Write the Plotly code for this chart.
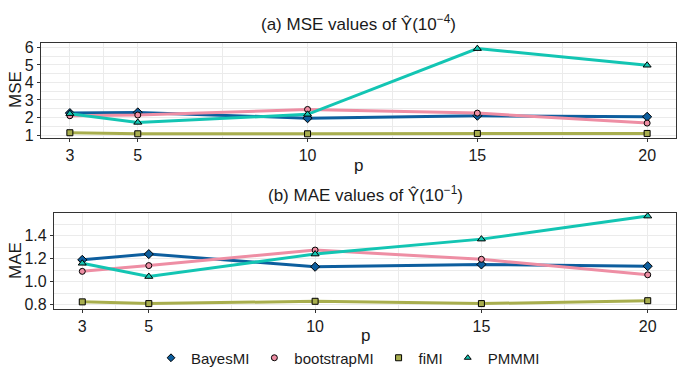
import plotly.graph_objects as go
from plotly.subplots import make_subplots

p_values = [3, 5, 10, 15, 20]
methods = ["BayesMI", "bootstrapMI", "fiMI", "PMMMI"]

mse = {
    "BayesMI":     [2.25, 2.29, 1.96, 2.10, 2.04],
    "bootstrapMI": [2.10, 2.14, 2.46, 2.25, 1.68],
    "fiMI":        [1.13, 1.07, 1.07, 1.09, 1.09],
    "PMMMI":       [2.22, 1.72, 2.18, 5.93, 4.98],
}
mae = {
    "BayesMI":     [1.19, 1.24, 1.13, 1.15, 1.135],
    "bootstrapMI": [1.09, 1.14, 1.275, 1.195, 1.06],
    "fiMI":        [0.825, 0.81, 0.83, 0.81, 0.835],
    "PMMMI":       [1.16, 1.045, 1.24, 1.37, 1.57],
}

colors = {"BayesMI": "#0D5E9E", "bootstrapMI": "#EE8EA4",
          "fiMI": "#A8AE4E", "PMMMI": "#13C5B3"}
symbols = {"BayesMI": "diamond", "bootstrapMI": "circle",
           "fiMI": "square", "PMMMI": "triangle-up"}
msizes = {"BayesMI": 7, "bootstrapMI": 6, "fiMI": 6, "PMMMI": 7}

W, H = 686, 369
ml, mr, mt, mb = 41, 10, 43, 60
ph = H - mt - mb
pw = W - ml - mr

FAM = "Liberation Sans, Arial, sans-serif"
TXT = "#1a1a1a"

fig = make_subplots(rows=2, cols=1)

for row, data in [(1, mse), (2, mae)]:
    for m in methods:
        fig.add_trace(go.Scatter(
            x=p_values, y=data[m], mode="lines+markers", name=m,
            showlegend=False,
            line=dict(color=colors[m], width=3),
            marker=dict(symbol=symbols[m], size=msizes[m], color=colors[m],
                        line=dict(color="black", width=1)),
        ), row=row, col=1)

# legend entries (marker keys only, like the reference)
for m in methods:
    fig.add_trace(go.Scatter(
        x=[None], y=[None], mode="markers", name=m, showlegend=True,
        marker=dict(symbol=symbols[m], size=6, color=colors[m],
                    line=dict(color="black", width=1)),
    ), row=1, col=1)

grid = "#EBEBEB"
axis_common = dict(showline=True, mirror=True, linecolor="#333333", linewidth=1.2,
                   ticks="outside", ticklen=3, tickcolor="#333333",
                   gridcolor=grid, gridwidth=1.2, zeroline=False,
                   tickfont=dict(family=FAM, size=16, color=TXT))

top_dom = [(H - mb - 138) / ph, 1]
bot_dom = [0, (H - mb - 213) / ph]
bot_x0 = (54 - ml) / pw

fig.update_xaxes(**axis_common, range=[2.15, 20.85], tickvals=p_values,
                 minor=dict(tickvals=[4, 7.5, 12.5, 17.5], showgrid=True,
                            gridcolor=grid, gridwidth=0.6, ticks=""))
fig.update_xaxes(domain=[0, 1], row=1, col=1)
fig.update_xaxes(domain=[bot_x0, 1], row=2, col=1)

fig.update_yaxes(**axis_common)
fig.update_yaxes(domain=top_dom, range=[0.83, 6.25], tickvals=[1, 2, 3, 4, 5, 6],
                 minor=dict(tickvals=[1.5, 2.5, 3.5, 4.5, 5.5], showgrid=True,
                            gridcolor=grid, gridwidth=0.6, ticks=""),
                 row=1, col=1)
fig.update_yaxes(domain=bot_dom, range=[0.763, 1.597], tickvals=[0.8, 1.0, 1.2, 1.4],
                 ticktext=["0.8", "1.0", "1.2", "1.4"],
                 minor=dict(tickvals=[0.9, 1.1, 1.3, 1.5], showgrid=True,
                            gridcolor=grid, gridwidth=0.6, ticks=""),
                 row=2, col=1)

def py(pix):
    return (H - mb - pix) / ph

def px(pix):
    return (pix - ml) / pw

font = dict(family=FAM, size=17, color=TXT)
ann = [
    dict(text="(a) MSE values of Ŷ(10<sup>−4</sup>)", x=px(358), y=py(23)),
    dict(text="(b) MAE values of Ŷ(10<sup>−1</sup>)", x=px(365), y=py(194)),
    dict(text="p", x=px(358), y=py(165)),
    dict(text="p", x=px(365), y=py(335)),
    dict(text="MSE", x=px(15), y=py(90), textangle=-90),
    dict(text="MAE", x=px(15), y=py(261), textangle=-90),
]
for a in ann:
    fig.add_annotation(xref="paper", yref="paper", showarrow=False,
                       xanchor="center", yanchor="middle", font=font, **a)

fig.update_layout(
    width=W, height=H,
    margin=dict(l=ml, r=mr, t=mt, b=mb, autoexpand=False),
    plot_bgcolor="white", paper_bgcolor="white",
    font=dict(family=FAM, color=TXT),
    legend=dict(orientation="h", x=px(348), xanchor="center", y=py(358), yanchor="middle",
                font=dict(family=FAM, size=15, color=TXT), itemwidth=30,
                tracegroupgap=0, bgcolor="rgba(0,0,0,0)"),
)

fig.write_html("out.html", config={"displayModeBar": False},
               post_script="document.body.style.margin='0px';")
